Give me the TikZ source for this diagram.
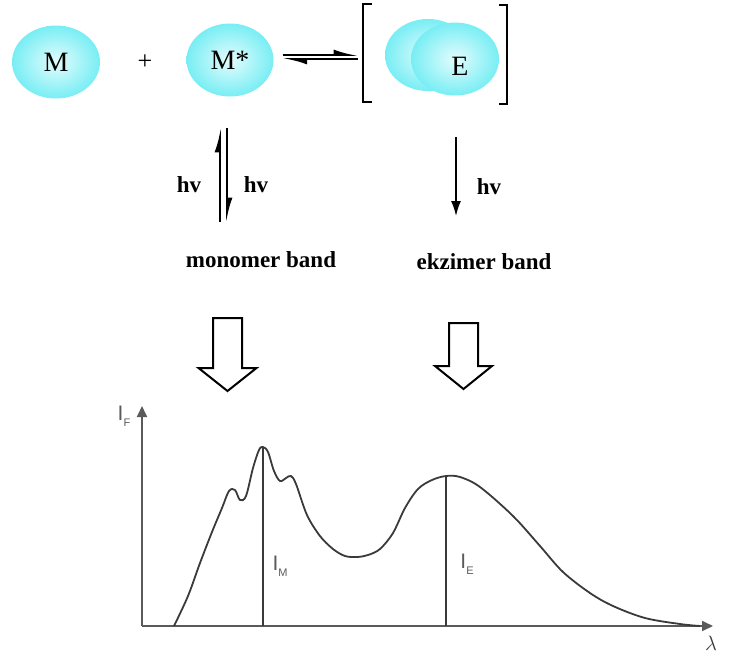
\documentclass[tikz,border=0pt]{standalone}
\usepackage{fontspec}
\setmainfont{Liberation Serif}
\newfontfamily\axisfont{Liberation Sans}
\usetikzlibrary{arrows.meta,positioning,calc,shapes.geometric}
\definecolor{BallCyan}{HTML}{78EEF4}
\definecolor{BallLight}{HTML}{E4FCFD}
\definecolor{AxisGray}{HTML}{5A5A5A}
\definecolor{CurveGray}{HTML}{3A3A3A}

\begin{document}
\begin{tikzpicture}[x=1pt,y=-1pt,>=Latex,
  ball/.style={ellipse,inner sep=0pt,minimum width=88pt,minimum height=73pt,shading=radial,inner color=BallLight,outer color=BallCyan,font=\fontsize{28}{30}\selectfont},
  harp/.style={line width=1.6pt,-{Latex[harpoon,length=20pt,width=11pt]}},
  lbl/.style={font=\fontsize{23}{26}\selectfont\bfseries},
  fatarrow/.style={draw=black,line width=2pt,fill=white,line join=miter},
  axis/.style={draw=AxisGray,line width=1.8pt,-{Triangle[length=11pt,width=10pt]}},
  peak/.style={draw=CurveGray,line width=1.8pt},
  axlbl/.style={text=AxisGray,font=\axisfont\fontsize{21}{24}\selectfont}]
\useasboundingbox (0,0) rectangle (748,657);
% reaction
\node[ball] (M) at (56,62) {M};
\node[font=\fontsize{26}{28}\selectfont] (plus) at (145,62) {+};
\node[ball,minimum width=87pt] (Mstar) at (230,60) {M*};
\node[ball,minimum width=86pt,minimum height=72pt] (Eback) at (428,55) {};
\node[ball] (E) at (455,59) {};
\node[font=\fontsize{28}{30}\selectfont] (Etext) at (460,66) {E};
\draw[line width=1.6pt] (372,4) -- (363,4) -- (363,102) -- (372,102);
\draw[line width=1.6pt] (499,5) -- (507,5) -- (507,104) -- (499,104);
\coordinate (eqL) at ($(Mstar.east)+(9,0)$);
\coordinate (eqR) at (358,60);
\draw[harp] ([yshift=5pt]eqL) -- ([yshift=5pt]eqR);
\draw[harp] ([yshift=1pt]eqR) -- ([yshift=1pt]eqL);
% emission
\coordinate (mtop) at (223.5,128);
\coordinate (mbot) at (223.5,222);
\draw[harp] ([xshift=-3.5pt]mbot) -- ([xshift=-3.5pt]mtop);
\draw[harp] ([xshift=3.5pt]mtop) -- ([xshift=3.5pt]mbot);
\node[lbl] (hv1) at (189,185) {hv};
\node[lbl] (hv2) at (256,185) {hv};
\coordinate (etop) at (456,137);
\coordinate (ebot) at (456,216);
\draw[line width=1.6pt,-{Latex[length=15pt,width=10pt]}] (etop) -- (ebot);
\node[lbl] (hv3) at (489,187) {hv};
\node[lbl] (mono) at (261,260) {monomer band};
\node[lbl] (ekz) at (484,262) {ekzimer band};
% block arrows
\coordinate (ba1) at (227.5,318);
\coordinate (ba2) at (463.5,323);
\draw[fatarrow] (ba1) ++(-14.5,0) -- ++(0,50) -- ++(-14.5,0) -- ++(29,23) -- ++(29,-23) -- ++(-14.5,0) -- ++(0,-50) -- cycle;
\draw[fatarrow] (ba2) ++(-14.5,0) -- ++(0,43) -- ++(-14,0) -- ++(28.5,23) -- ++(28.5,-23) -- ++(-14,0) -- ++(0,-43) -- cycle;
% spectrum
\coordinate (O) at (142,626);
\coordinate (ytip) at (142,406);
\coordinate (xtip) at (713,626);
\draw[axis] (O) -- (ytip);
\draw[axis] (O) -- (xtip);
\node[axlbl] (IF) at (124,416) {I\raisebox{-0.5ex}{\fontsize{11}{12}\selectfont F}};
\node[axlbl,text=CurveGray,font=\fontsize{20}{22}\selectfont] (lam) at (711,643) {$\lambda$};
\draw[peak,line join=round] plot[smooth,tension=0.55] coordinates {(174,626) (188,596) (200,563) (212,532) (222,508) (229,491) (235,490) (240,500) (246,496) (253,468) (259,450) (263,447) (268,452) (274,471) (280,481) (286,478) (291,476) (296,484) (307,515) (320,536) (333,549) (345,556) (357,557) (368,555) (380,549) (393,533) (405,508) (418,489) (432,480) (446,476) (460,477) (480,487) (513,516) (540,546) (563,572) (590,593) (613,606) (645,618) (680,624) (700,626)};
\coordinate (Mpk) at (263,447);
\coordinate (Epk) at (446,476);
\draw[peak] (Mpk) -- (Mpk |- O);
\draw[peak] (Epk) -- (Epk |- O);
\node[axlbl] (IM) at (280,566) {I\raisebox{-0.5ex}{\fontsize{11}{12}\selectfont M}};
\node[axlbl] (IE) at (467,564) {I\raisebox{-0.5ex}{\fontsize{11}{12}\selectfont E}};
\end{tikzpicture}
\end{document}
